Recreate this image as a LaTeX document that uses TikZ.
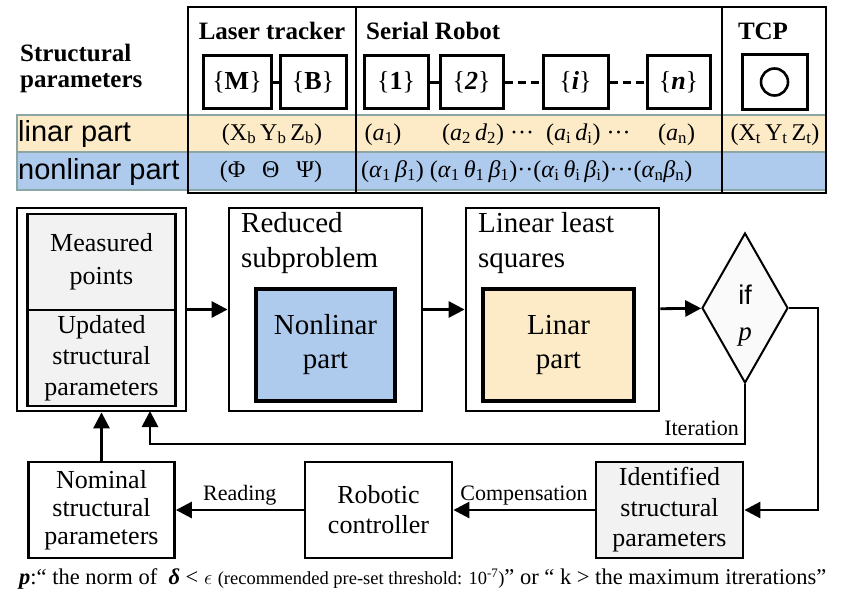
\documentclass[tikz,border=0pt]{standalone}
\usepackage{fontspec}
\setmainfont{Liberation Serif}
\newfontfamily\arial{Liberation Sans}
\usetikzlibrary{shapes.geometric,arrows.meta}
\definecolor{yel}{RGB}{252,235,198}
\definecolor{blu}{RGB}{174,203,238}
\definecolor{rowline}{RGB}{140,165,165}
\definecolor{lgray}{RGB}{242,242,242}
\definecolor{dgray}{RGB}{250,250,250}
\newcommand\fs[2]{\fontsize{#1}{#2}\selectfont}
\newcommand\subx[1]{\textsubscript{#1}}
\begin{document}
\begin{tikzpicture}[x=1pt,y=-1pt,
  tbox/.style={draw, line width=3pt, minimum height=53pt, inner sep=0pt, font=\fs{26}{28}},
  fbox/.style={draw, line width=2.8pt, inner sep=0pt, align=center, font=\fs{26}{28.5}},
  inbox/.style={draw, line width=4pt, inner sep=0pt, align=center, font=\fs{29}{34}},
  arr/.style={line width=2.8pt, -{Triangle[length=16pt,width=16pt]}},
  lnk/.style={line width=3pt},
  lbl/.style={font=\fs{22}{24}, inner sep=1pt},
  tt/.style={font=\fs{24}{26}, inner sep=0pt},
  ttl/.style={align=left, inner sep=0pt, font=\fs{29}{35}}
]
\useasboundingbox (0,0) rectangle (856,594);

% ---------- table ----------
\fill[yel] (17,115) rectangle (826,152);
\fill[blu] (17,152) rectangle (826,190);
\draw[rowline, line width=1.3pt] (17,115) rectangle (826,190);
\draw[rowline, line width=1.3pt] (17,152) -- (826,152);
\draw[line width=2pt] (188,7) rectangle (826,193);
\draw[line width=2pt] (356,7) -- (356,193);
\draw[line width=2pt] (722,7) -- (722,193);

\node[anchor=base west, inner sep=0pt, font=\fs{25}{26}\bfseries] (sp) at (20,62) {Structural};
\node[anchor=base west, inner sep=0pt, font=\fs{25}{26}\bfseries] (sp2) at (20,88) {parameters};
\node[anchor=base, inner sep=0pt, font=\fs{25}{26}\bfseries] (hl) at (272,40) {Laser tracker};
\node[anchor=base west, inner sep=0pt, font=\fs{25}{26}\bfseries] (hs) at (366,40) {Serial Robot};
\node[anchor=base, inner sep=0pt, font=\fs{25}{26}\bfseries] (ht) at (763,40) {TCP};

\node[tbox, minimum width=68pt] (bM) at (237,82) {\{\textbf{M}\}};
\node[tbox, minimum width=66pt] (bB) at (313,82) {\{\textbf{B}\}};
\node[tbox, minimum width=64pt] (b1) at (396,82) {\{\textbf{1}\}};
\node[tbox, minimum width=63pt] (b2) at (471.5,82) {\{\textbf{\textit{2}}\}};
\node[tbox, minimum width=65pt] (bi) at (575.5,82) {\{\textbf{\textit{i}}\}};
\node[tbox, minimum width=63pt] (bn) at (678.5,82) {\{\textbf{\textit{n}}\}};
\node[tbox, minimum width=65pt, minimum height=55pt] (bT) at (774.5,82) {};
\node[draw, circle, line width=2.6pt, minimum size=27pt, inner sep=0pt] (cT) at (bT.center) {};
\draw[lnk] (bM) -- (bB);
\draw[lnk] (b1) -- (b2);
\draw[lnk, dash pattern=on 8pt off 5pt] (b2) -- (bi);
\draw[lnk, dash pattern=on 8pt off 5pt] (bi) -- (bn);

\node[anchor=base west, inner sep=0pt, font=\arial\fs{29}{30}] (rl) at (18,141) {linar part};
\node[anchor=base west, inner sep=0pt, font=\arial\fs{29}{30}] (rn) at (18,179) {nonlinar part};

\node[tt, anchor=base] (l1) at (272,140) {(X\subx{b}\,Y\subx{b}\,Z\subx{b})};
\node[tt, anchor=base] (l2) at (383,140) {(\textit{a}\subx{1})};
\node[tt, anchor=base west] (l3) at (442,140) {(\textit{a}\subx{2}\,\textit{d}\subx{2}) ···};
\node[tt, anchor=base west] (l4) at (546,140) {(\textit{a}\subx{i}\,\textit{d}\subx{i}) ···};
\node[tt, anchor=base west] (l5) at (658,140) {(\textit{a}\subx{n})};
\node[tt, anchor=base] (l6) at (775,140) {(X\subx{t}\,Y\subx{t}\,Z\subx{t})};

\node[tt, anchor=base] (n1) at (271,177) {(Φ\hspace{0.7em}Θ\hspace{0.7em}Ψ)};
\node[tt, anchor=base west] (n2) at (361,177) {(\textit{α}\subx{1}\,\textit{β}\subx{1}) (\textit{α}\subx{1}\,\textit{θ}\subx{1}\,\textit{β}\subx{1})··(\textit{α}\subx{i}\,\textit{θ}\subx{i}\,\textit{β}\subx{i})···(\textit{α}\subx{n}\textit{β}\subx{n})};

% ---------- flow chart ----------
\node[draw, line width=2.8pt, minimum width=169pt, minimum height=203pt, inner sep=0pt] (store) at (101.5,309.5) {};
\node[fbox, fill=lgray, line width=2.5pt, minimum width=148pt, minimum height=96pt, font=\fs{26}{33}] (meas) at (101.5,262) {Measured\\points};
\node[fbox, fill=lgray, line width=2.5pt, minimum width=148pt, minimum height=96pt, font=\fs{26}{31}] (upd) at (101.5,358) {Updated\\structural\\parameters};

\node[fbox, minimum width=193pt, minimum height=203pt] (red) at (325.5,309.5) {};
\node[ttl, anchor=north west] (redt) at (241,212) {Reduced\\subproblem};
\node[inbox, fill=blu, minimum width=139pt, minimum height=112pt] (nl) at (325.5,345) {Nonlinar\\part};

\node[fbox, minimum width=193pt, minimum height=203pt] (lls) at (562.5,309.5) {};
\node[ttl, anchor=north west] (llst) at (478,212) {Linear least\\squares};
\node[inbox, fill=yel, minimum width=151pt, minimum height=112pt] (lin) at (558.5,345) {Linar\\part};

\node[draw, diamond, line width=2pt, fill=dgray, minimum width=86pt, minimum height=150pt, inner sep=0pt] (dia) at (745,308) {};
\node[align=center, inner sep=0pt, font=\fs{27}{36}] (diat) at (745,316) {{\arial if}\\\textit{p}};

\node[fbox, minimum width=146pt, minimum height=96pt, font=\fs{26}{28}] (nom) at (101.5,510) {Nominal\\structural\\parameters};
\node[fbox, minimum width=147pt, minimum height=96pt, font=\fs{26}{30}] (rob) at (378.5,510) {Robotic\\controller};
\node[fbox, fill=lgray, minimum width=147pt, minimum height=96pt, font=\fs{26}{30.5}] (ident) at (669.5,510) {Identified\\structural\\parameters};

\coordinate (itend) at (150,411);
\draw[arr] (store) -- (red);
\draw[arr] (red) -- (lls);
\draw[arr] (lls) -- (dia);
\draw[arr] (dia.east) -- ++(29,0) |- (ident.east);
\draw[arr] (dia.south) -- ++(0,60) -| (itend);
\node[lbl, anchor=east] (itl) at (740,428) {Iteration};
\draw[arr] (nom.north) -- (nom.north |- store.south);
\draw[arr] (rob) -- node[lbl, above=2pt] (rd) {Reading} (nom);
\draw[arr] (ident) -- node[lbl, above=2pt] (cp) {Compensation} (rob);

\node[anchor=base west, inner sep=0pt, font=\fs{22.5}{24}] (cap) at (19,584) {\textbf{\textit{p}}:“ the norm of\ \ \textbf{\textit{δ}} < $\epsilon$ {\fs{18.5}{20}(recommended pre-set threshold: 10\textsuperscript{-7})}” or “ k > the maximum itrerations”};
\end{tikzpicture}
\end{document}
